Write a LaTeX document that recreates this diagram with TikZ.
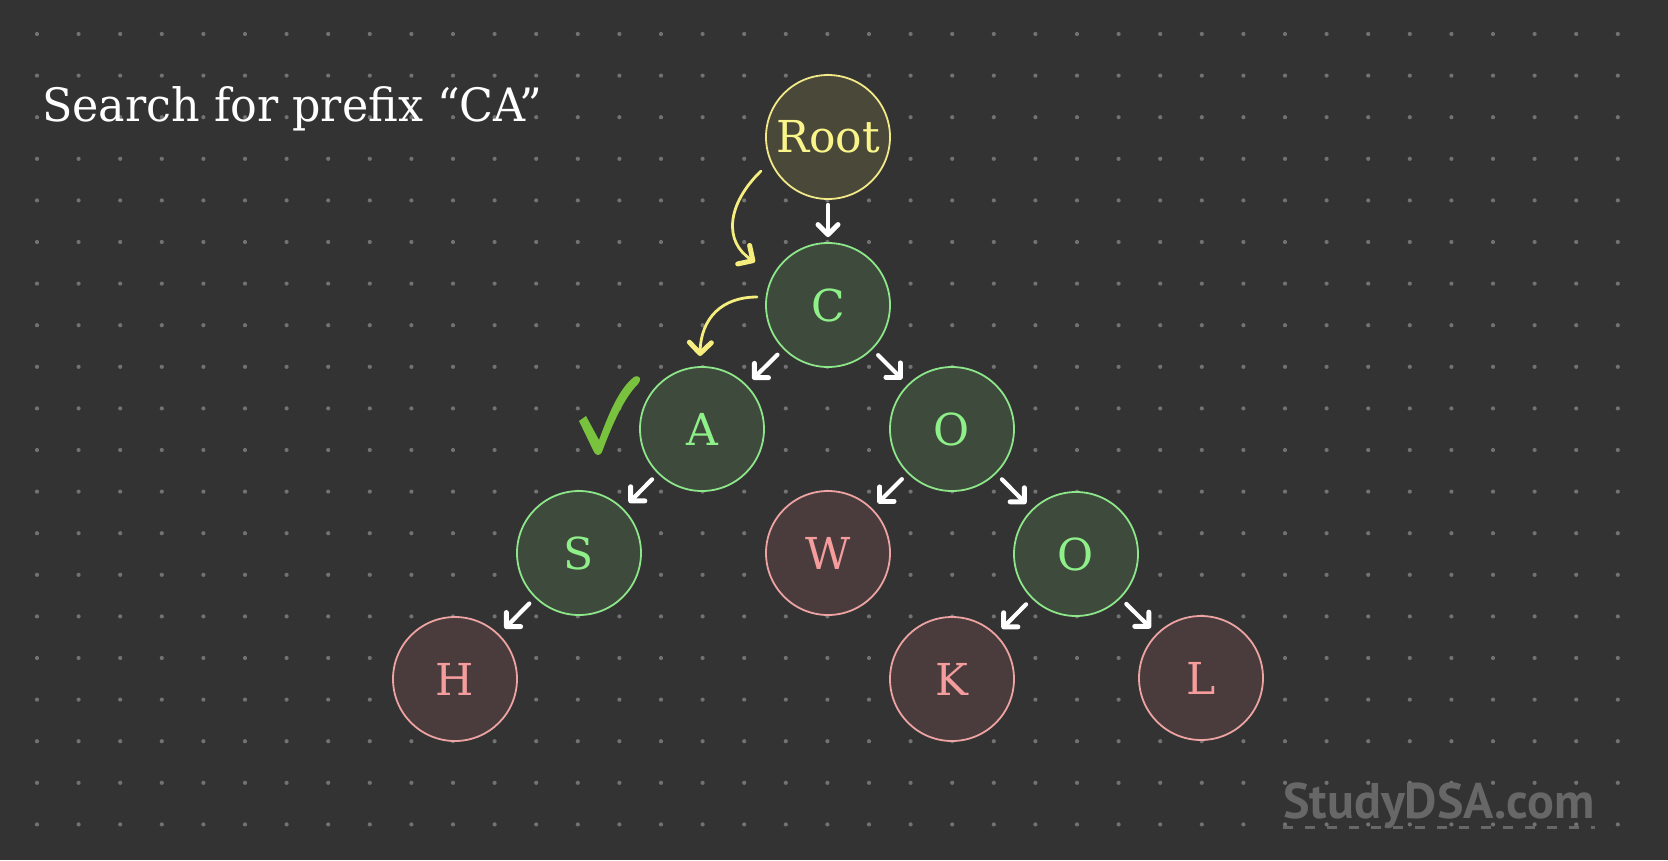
\documentclass[tikz,border=0pt]{standalone}
\usepackage{fontspec}
\setmainfont{DejaVu Serif}
\newfontfamily\wmfont{PT Sans}
\usetikzlibrary{arrows.meta}
\definecolor{bgc}{HTML}{333333}
\definecolor{dotc}{HTML}{727272}
\definecolor{rootfill}{HTML}{4A4839}
\definecolor{rootline}{HTML}{F2EA88}
\definecolor{roottext}{HTML}{FAF58A}
\definecolor{gfill}{HTML}{3D4A3C}
\definecolor{gline}{HTML}{8EE68A}
\definecolor{gtext}{HTML}{8FF08A}
\definecolor{rfill}{HTML}{4A3C3D}
\definecolor{rline}{HTML}{EEA3A3}
\definecolor{rtext}{HTML}{F59C9C}
\definecolor{yarrow}{HTML}{F5EE7E}
\definecolor{checkc}{HTML}{78C23E}
\definecolor{wmc}{HTML}{676767}
\tikzset{
  trie/.style={circle, minimum size=124pt, inner sep=0pt, line width=1.8pt, font=\fontsize{44}{44}\selectfont},
  rootnode/.style={trie, fill=rootfill, draw=rootline, text=roottext},
  goodnode/.style={trie, fill=gfill, draw=gline, text=gtext},
  badnode/.style={trie, fill=rfill, draw=rline, text=rtext},
  edgearrow/.style={draw=white, line width=4.2pt, line cap=round, shorten <=8pt, shorten >=8pt,
    -{Straight Barb[length=10pt, width=20pt, line width=5pt, round]}},
  patharrow/.style={draw=yarrow, line width=2.8pt, line cap=round,
    -{Straight Barb[length=11pt, width=22pt, line width=5pt, round]}}
}
\begin{document}
\begin{tikzpicture}[x=1pt,y=-1pt]
\fill[bgc] (0,0) rectangle (1668,860);
\useasboundingbox (0,0) rectangle (1668,860);
\foreach \i in {0,...,38} {
  \foreach \j in {0,...,19} {
    \fill[dotc] (37+41.6*\i, 34+41.6*\j) circle (2.1pt);
  }
}
% title
\node[anchor=base west, inner sep=0pt, text=white, font=\fontsize{46}{46}\selectfont] (title) at (42,121) {\scalebox{0.965}[1]{Search for prefix “CA”}};
% nodes
\node[rootnode] (root) at (828,137) {Root};
\node[goodnode] (c) at (828,305) {C};
\node[goodnode] (a) at (702,429) {A};
\node[goodnode] (o1) at (952,429) {O};
\node[goodnode] (s) at (579,553) {S};
\node[badnode] (w) at (828,553) {W};
\node[goodnode] (o2) at (1076,554) {O};
\node[badnode] (h) at (455,679) {H};
\node[badnode] (k) at (952,679) {K};
\node[badnode] (l) at (1201,678) {L};
% edges
\draw[edgearrow, shorten <=5pt, shorten >=5pt] (root) -- (c);
\draw[edgearrow] (c) -- (a);
\draw[edgearrow] (c) -- (o1);
\draw[edgearrow] (a) -- (s);
\draw[edgearrow] (o1) -- (w);
\draw[edgearrow] (o1) -- (o2);
\draw[edgearrow] (s) -- (h);
\draw[edgearrow] (o2) -- (k);
\draw[edgearrow] (o2) -- (l);
% search path arrows
\coordinate (p1s) at (761,171);
\coordinate (p1e) at (755,262);
\coordinate (p2s) at (757,297);
\coordinate (p2e) at (700,356);
\draw[patharrow] (p1s) .. controls (726,205) and (724,242) .. (p1e);
\draw[patharrow] (p2s) .. controls (722,297) and (701,318) .. (p2e);
% check mark
\fill[checkc] (579,421) -- (586,416) -- (599,440) .. controls (610,410) and (620,388) .. (634,377) .. controls (640,374) and (642,380) .. (638,384) .. controls (624,398) and (612,425) .. (602,452) .. controls (600,456) and (596,456) .. (594,452) -- cycle;
% watermark
\node[anchor=base west, inner sep=0pt, text=wmc, font=\wmfont\bfseries\fontsize{50}{50}\selectfont] (wm) at (1283,818) {StudyDSA.com};
\draw[wmc, line width=2.5pt, dash pattern=on 10pt off 12pt] (wm.south west) ++(0,-1) coordinate (u1) -- (wm.south east |- u1);
\end{tikzpicture}
\end{document}
